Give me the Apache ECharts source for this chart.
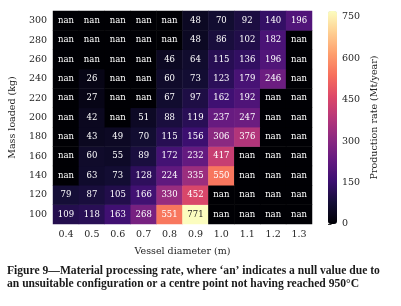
<!DOCTYPE html>
<html>
<head>
<meta charset="utf-8">
<script src="https://cdn.jsdelivr.net/npm/echarts@6/dist/echarts.min.js"></script>
<style>
  html, body { margin: 0; padding: 0; background: #fff; }
  #chart { width: 401px; height: 306px; }
</style>
</head>
<body>
<div id="chart"></div>
<script>
// vessel diameters (m) and mass loaded (kg)
var diameters = ['0.4', '0.5', '0.6', '0.7', '0.8', '0.9', '1.0', '1.1', '1.2', '1.3'];
var masses = ['100', '120', '140', '160', '180', '200', '220', '240', '260', '280', '300'];

// production rate (Mt/year), null = nan
var rate100 = [109, 118, 163, 268, 551, 771, null, null, null, null];
var rate120 = [79, 87, 105, 166, 330, 452, null, null, null, null];
var rate140 = [null, 63, 73, 128, 224, 335, 550, null, null, null];
var rate160 = [null, 60, 55, 89, 172, 232, 417, null, null, null];
var rate180 = [null, 43, 49, 70, 115, 156, 306, 376, null, null];
var rate200 = [null, 42, null, 51, 88, 119, 237, 247, null, null];
var rate220 = [null, 27, null, null, 67, 97, 162, 192, null, null];
var rate240 = [null, 26, null, null, 60, 73, 123, 179, 246, null];
var rate260 = [null, null, null, null, 46, 64, 115, 136, 196, null];
var rate280 = [null, null, null, null, null, 48, 86, 102, 182, null];
var rate300 = [null, null, null, null, null, 48, 70, 92, 140, 196];
var rows = [rate100, rate120, rate140, rate160, rate180, rate200, rate220, rate240, rate260, rate280, rate300];

var magma = ['#000004', '#140e36', '#3b0f70', '#641a80', '#8c2981', '#b73779',
             '#de4968', '#f7705c', '#fe9f6d', '#fecf92', '#fcfdbf'];
var vmax = 771;

var data = [];
rows.forEach(function (row, yi) {
  row.forEach(function (v, xi) {
    data.push({
      value: [xi, yi, v == null ? 0 : v],
      raw: v,
      label: { color: (v != null && v / vmax > 0.85) ? '#262626' : '#ffffff' }
    });
  });
});

var font = 'DejaVu Serif';
var chart = echarts.init(document.getElementById('chart'));
var option = {
  backgroundColor: '#fff',
  animation: false,
  textStyle: { fontFamily: font },
  grid: [
    { left: 48, top: 11, width: 264, height: 213 },
    { left: 328, top: 11, width: 9, height: 213 }
  ],
  xAxis: [{
    type: 'category', gridIndex: 0, data: diameters,
    name: 'Vessel diameter (m)', nameLocation: 'middle', nameGap: 23,
    nameTextStyle: { fontSize: 9.5, color: '#262626', fontFamily: font },
    axisLine: { show: false },
    axisTick: { alignWithLabel: true, length: 3.5, lineStyle: { color: '#333' } },
    axisLabel: { fontSize: 9.5, color: '#262626', margin: 6, fontFamily: font },
    splitLine: { show: false }
  }, {
    type: 'value', gridIndex: 1, show: false
  }],
  yAxis: [{
    type: 'category', gridIndex: 0, data: masses,
    name: 'Mass loaded (kg)', nameLocation: 'middle', nameGap: 29, nameRotate: 90,
    nameTextStyle: { fontSize: 9.5, color: '#262626', fontFamily: font },
    axisLine: { show: false },
    axisTick: { alignWithLabel: true, length: 3.5, lineStyle: { color: '#333' } },
    axisLabel: { fontSize: 9.5, color: '#262626', margin: 6, fontFamily: font },
    splitLine: { show: false }
  }, {
    type: 'value', gridIndex: 1, position: 'right', min: 0, max: vmax, interval: 150,
    name: 'Production rate (Mt/year)', nameLocation: 'middle', nameGap: 33, nameRotate: 90,
    nameTextStyle: { fontSize: 9.5, color: '#262626', fontFamily: font },
    axisLine: { show: false },
    axisTick: { show: true, length: 3.5, lineStyle: { color: '#333' } },
    axisLabel: { fontSize: 9.5, color: '#262626', margin: 5, fontFamily: font },
    splitLine: { show: false }
  }],
  visualMap: {
    type: 'continuous', min: 0, max: vmax, seriesIndex: 0,
    calculable: false, showLabel: false, text: null,
    left: 328, top: 11, itemWidth: 9, itemHeight: 213, padding: 0,
    inRange: { color: magma }
  },
  series: [{
    type: 'heatmap', xAxisIndex: 0, yAxisIndex: 0,
    data: data,
    label: {
      show: true, fontSize: 8.5, fontFamily: font,
      formatter: function (p) { return p.data.raw == null ? 'nan' : String(p.data.raw); }
    },
    emphasis: { disabled: true }
  }],
  graphic: [{
    type: 'text', left: 7, top: 264,
    style: {
      text: 'Figure 9\u2014Material processing rate, where \u2018an\u2019 indicates a null value due to\nan unsuitable configuration or a centre point not having reached 950\u00b0C',
      font: 'bold 11.6px "Liberation Serif"', fill: '#1a1a1a', lineHeight: 13
    }
  }]
};
chart.setOption(option);
</script>
</body>
</html>
